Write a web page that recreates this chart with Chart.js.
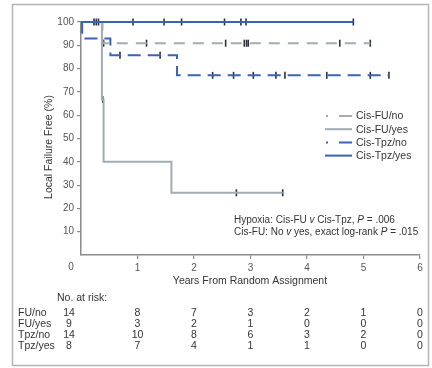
<!DOCTYPE html>
<html>
<head>
<meta charset="utf-8">
<script src="https://cdn.jsdelivr.net/npm/chart.js@4.4.1/dist/chart.umd.min.js"></script>
<style>
  html, body { margin: 0; padding: 0; background: #fff; }
  #wrap { width: 432px; height: 368px; }
</style>
</head>
<body>
<div id="wrap"><canvas id="kmChart"></canvas></div>
<script>
// Kaplan-Meier curves, times in years, values in %
const seriesNames = ['Cis-FU/no', 'Cis-FU/yes', 'Cis-Tpz/no', 'Cis-Tpz/yes'];

const fuNoEventTimes = [0.38];
const fuNoEventValues = [90.9];
const fuNoCensor = [0.23, 0.27, 0.31, 0.40, 1.16, 2.56, 2.89, 2.93, 2.96, 4.58, 5.12];
const fuNoEnd = 5.12;

const fuYesEventTimes = [0.37, 0.40, 1.60];
const fuYesEventValues = [66.7, 40.0, 26.7];
const fuYesCensor = [0.385, 2.75, 3.57];
const fuYesEnd = 3.57;

const tpzNoEventTimes = [0.02, 0.52, 1.70];
const tpzNoEventValues = [92.9, 85.7, 77.1];
const tpzNoCensor = [0.69, 1.40, 2.33, 2.70, 3.05, 3.45, 3.61, 4.35, 5.12, 5.45];
const tpzNoEnd = 5.45;

const tpzYesEventTimes = [];
const tpzYesEventValues = [];
const tpzYesCensor = [0.92, 1.47, 1.78, 2.54, 2.83, 2.92, 4.82];
const tpzYesEnd = 4.82;

// numbers at risk at years 0..6
const riskYears = [0, 1, 2, 3, 4, 5, 6];
const riskLabels = ['FU/no', 'FU/yes', 'Tpz/no', 'Tpz/yes'];
const riskFuNo = [14, 8, 7, 3, 2, 1, 0];
const riskFuYes = [9, 3, 2, 1, 0, 0, 0];
const riskTpzNo = [14, 10, 8, 6, 3, 2, 0];
const riskTpzYes = [8, 7, 4, 1, 1, 0, 0];

const xTicks = [0, 1, 2, 3, 4, 5, 6];
const yTicks = [10, 20, 30, 40, 50, 60, 70, 80, 90, 100];

const GRAY = '#a3abb3';
const BLUE = '#3863b6';
const TICKC = '#2b2f3a';
const TEXT = '#333';
const FONT = '"Liberation Sans", Arial, sans-serif';

function stepPoints(times, values, end) {
  var pts = [{x: 0, y: 100}];
  var prev = 100;
  for (var i = 0; i < times.length; i++) {
    pts.push({x: times[i], y: prev});
    pts.push({x: times[i], y: values[i]});
    prev = values[i];
  }
  pts.push({x: end, y: prev});
  return pts;
}

function censorPoints(times, values, censor) {
  return censor.map(function (c) {
    var v = 100;
    for (var i = 0; i < times.length; i++) {
      if (times[i] <= c) v = values[i];
    }
    return {x: c, y: v};
  });
}

function curve(label, pts, color, dash) {
  return {
    label: label,
    data: pts,
    borderColor: color,
    backgroundColor: color,
    borderWidth: 2,
    borderDash: dash,
    pointRadius: 0,
    tension: 0,
    clip: false
  };
}

function marks(pts) {
  return {
    label: '',
    data: pts,
    showLine: false,
    pointStyle: 'line',
    rotation: 90,
    pointRadius: 3.5,
    pointBorderWidth: 1.6,
    borderColor: TICKC,
    backgroundColor: TICKC,
    clip: false
  };
}

const datasets = [
  curve(seriesNames[3], stepPoints(tpzYesEventTimes, tpzYesEventValues, tpzYesEnd), BLUE, []),
  curve(seriesNames[1], stepPoints(fuYesEventTimes, fuYesEventValues, fuYesEnd), GRAY, []),
  curve(seriesNames[0], stepPoints(fuNoEventTimes, fuNoEventValues, fuNoEnd), GRAY, [11, 8]),
  curve(seriesNames[2], stepPoints(tpzNoEventTimes, tpzNoEventValues, tpzNoEnd), BLUE, [13, 7]),
  marks(censorPoints(tpzYesEventTimes, tpzYesEventValues, tpzYesCensor)),
  marks(censorPoints(fuYesEventTimes, fuYesEventValues, fuYesCensor)),
  marks(censorPoints(fuNoEventTimes, fuNoEventValues, fuNoCensor)),
  marks(censorPoints(tpzNoEventTimes, tpzNoEventValues, tpzNoCensor))
];

// frame, titles, legend, note, at-risk table
const extras = {
  id: 'extras',
  beforeDraw: function (chart) {
    var c = chart.ctx;
    c.save();
    c.fillStyle = '#fff';
    c.fillRect(0, 0, chart.width, chart.height);
    c.strokeStyle = '#b4b4b4';
    c.lineWidth = 1.5;
    c.strokeRect(12.5, 4.5, 416, 361);
    c.restore();
  },
  afterDraw: function (chart) {
    var c = chart.ctx;
    var xs = chart.scales.x;
    c.save();
    c.fillStyle = TEXT;
    c.textBaseline = 'middle';

    // origin label
    c.font = '10px ' + FONT;
    c.fillStyle = '#555';
    c.textAlign = 'center';
    c.fillText('0', 71, 267);

    // axis titles
    c.fillStyle = TEXT;
    c.font = '10.5px ' + FONT;
    c.fillText('Years From Random Assignment', 250, 281);
    c.save();
    c.translate(49, 147);
    c.rotate(-Math.PI / 2);
    c.fillText('Local Failure Free (%)', 0, 0);
    c.restore();

    // legend
    var order = [0, 1, 2, 3];
    var styles = [[GRAY, true], [GRAY, false], [BLUE, true], [BLUE, false]];
    c.textAlign = 'left';
    c.font = '10.5px ' + FONT;
    order.forEach(function (k, i) {
      var y = 116 + i * 13.2;
      c.strokeStyle = styles[k][0];
      c.lineWidth = 2;
      c.beginPath();
      if (styles[k][1]) {
        c.moveTo(326, y); c.lineTo(328, y);
        c.moveTo(339, y); c.lineTo(352, y);
      } else {
        c.moveTo(325, y); c.lineTo(352, y);
      }
      c.stroke();
      c.fillStyle = TEXT;
      c.fillText(seriesNames[k], 356, y + 0.5);
    });

    // note with italics
    function runs(parts, x, y) {
      parts.forEach(function (p) {
        c.font = (p[1] ? 'italic ' : '') + '10px ' + FONT;
        c.fillText(p[0], x, y);
        x += c.measureText(p[0]).width;
      });
    }
    runs([['Hypoxia: Cis-FU ', 0], ['v', 1], [' Cis-Tpz, ', 0], ['P', 1], [' = .006', 0]], 234, 220);
    runs([['Cis-FU: No ', 0], ['v', 1], [' yes, exact log-rank ', 0], ['P', 1], [' = .015', 0]], 234, 232);

    // at-risk table
    c.font = '10.5px ' + FONT;
    c.textAlign = 'left';
    c.fillText('No. at risk:', 57, 298);
    var rows = [riskFuNo, riskFuYes, riskTpzNo, riskTpzYes];
    rows.forEach(function (row, r) {
      var y = 313 + r * 11;
      c.textAlign = 'left';
      c.fillText(riskLabels[r], 18, y);
      c.textAlign = 'center';
      row.forEach(function (n, i) {
        var px = riskYears[i] === 0 ? 69 : xs.getPixelForValue(riskYears[i]);
        c.fillText(String(n), px, y);
      });
    });
    c.restore();
  }
};

const ctx = document.getElementById('kmChart');
const kmChart = new Chart(ctx, {
  type: 'line',
  data: { datasets: datasets },
  options: {
    responsive: true,
    maintainAspectRatio: false,
    animation: false,
    layout: { padding: { left: 0, right: 12, top: 22, bottom: 0 } },
    scales: {
      x: {
        type: 'linear',
        min: 0,
        max: 6,
        afterFit: function (s) { s.height = 113; },
        afterBuildTicks: function (s) { s.ticks = xTicks.map(function (v) { return {value: v}; }); },
        border: { display: true, color: '#8a8a8a', width: 1.5 },
        grid: {
          drawOnChartArea: false,
          tickLength: 4,
          color: function (ctx) { return ctx.tick && ctx.tick.value === 0 ? 'rgba(0,0,0,0)' : '#8a8a8a'; },
          lineWidth: 1.2
        },
        ticks: {
          padding: 3,
          color: '#555',
          font: { family: FONT, size: 10 },
          callback: function (v) { return v === 0 ? '' : v; }
        }
      },
      y: {
        min: 0,
        max: 100,
        afterFit: function (s) { s.width = 81; },
        afterBuildTicks: function (s) { s.ticks = [0].concat(yTicks).map(function (v) { return {value: v}; }); },
        border: { display: true, color: '#8a8a8a', width: 1.5 },
        grid: {
          drawOnChartArea: false,
          tickLength: 4,
          color: function (ctx) { return ctx.tick && ctx.tick.value === 0 ? 'rgba(0,0,0,0)' : '#8a8a8a'; },
          lineWidth: 1.2
        },
        ticks: {
          padding: 3,
          color: '#555',
          font: { family: FONT, size: 10 },
          callback: function (v) { return v === 0 ? '' : v; }
        }
      }
    },
    plugins: {
      legend: { display: false },
      tooltip: { enabled: false }
    }
  },
  plugins: [extras]
});
</script>
</body>
</html>
